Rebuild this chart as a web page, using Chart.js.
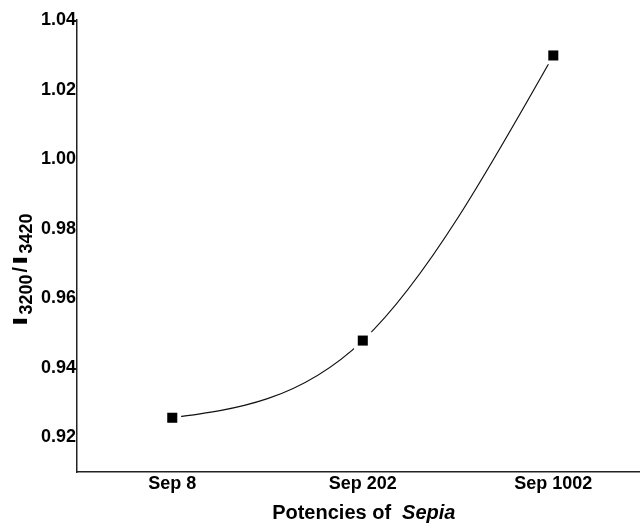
<!DOCTYPE html>
<html>
<head>
<meta charset="utf-8">
<script src="https://cdn.jsdelivr.net/npm/chart.js@4"></script>
<style>
  body { margin: 0; background: #fff; }
</style>
</head>
<body>
<canvas id="chart" width="640" height="527"></canvas>
<script>
const categories = ["Sep 8", "Sep 202", "Sep 1002"];
const positions = [1, 2, 3];
const ratio = [0.9256, 0.9478, 1.0298];
const yTicks = [0.92, 0.94, 0.96, 0.98, 1.00, 1.02, 1.04];

const FONT = '"Liberation Sans", Arial, sans-serif';

// natural cubic spline through the points (pixel space), drawn as beziers
function drawSpline(ctx, pts) {
  const n = pts.length;
  const h = [];
  for (let i = 0; i < n - 1; i++) h.push(pts[i + 1].x - pts[i].x);
  const M = new Array(n).fill(0);
  if (n > 2) {
    const a = [], b = [], c = [], d = [];
    for (let i = 1; i < n - 1; i++) {
      a.push(h[i - 1]);
      b.push(2 * (h[i - 1] + h[i]));
      c.push(h[i]);
      d.push(6 * ((pts[i + 1].y - pts[i].y) / h[i] - (pts[i].y - pts[i - 1].y) / h[i - 1]));
    }
    const m = b.length;
    for (let i = 1; i < m; i++) {
      const w = a[i] / b[i - 1];
      b[i] -= w * c[i - 1];
      d[i] -= w * d[i - 1];
    }
    M[m] = d[m - 1] / b[m - 1];
    for (let i = m - 2; i >= 0; i--) M[i + 1] = (d[i] - c[i] * M[i + 2]) / b[i];
  }
  ctx.beginPath();
  ctx.moveTo(pts[0].x, pts[0].y);
  for (let i = 0; i < n - 1; i++) {
    const p0 = pts[i], p1 = pts[i + 1], hh = h[i];
    const s = (p1.y - p0.y) / hh;
    const m0 = s - hh * (2 * M[i] + M[i + 1]) / 6;
    const m1 = s + hh * (M[i] + 2 * M[i + 1]) / 6;
    ctx.bezierCurveTo(p0.x + hh / 3, p0.y + m0 * hh / 3,
                      p1.x - hh / 3, p1.y - m1 * hh / 3,
                      p1.x, p1.y);
  }
  ctx.stroke();
}

const curvePlugin = {
  id: "curve",
  beforeDatasetsDraw(chart) {
    const xs = chart.scales.x, ys = chart.scales.y;
    const pts = positions.map((p, i) => ({
      x: xs.getPixelForValue(p),
      y: ys.getPixelForValue(ratio[i])
    }));
    const ctx = chart.ctx;
    ctx.save();
    ctx.strokeStyle = "#111";
    ctx.lineWidth = 1.2;
    drawSpline(ctx, pts);
    ctx.restore();
  }
};

const titlesPlugin = {
  id: "titles",
  afterDraw(chart) {
    const ctx = chart.ctx;
    const xs = chart.scales.x;
    ctx.save();
    ctx.fillStyle = "#000";
    ctx.textBaseline = "alphabetic";

    // x title: "Potencies of Sepia", Sepia in italics
    const f1 = "bold 20px " + FONT, f2 = "italic bold 20px " + FONT;
    ctx.font = f1;
    const t1 = "Potencies of";
    const w1 = ctx.measureText(t1).width + 11;
    ctx.font = f2;
    const w2 = ctx.measureText("Sepia").width;
    let x0 = xs.getPixelForValue(2) + 1 - (w1 + w2) / 2;
    ctx.font = f1;
    ctx.fillText(t1, x0, 519);
    ctx.font = f2;
    ctx.fillText("Sepia", x0 + w1, 519);

    // y title: I3200/I3420 with subscripts, rotated
    ctx.translate(27, 326);
    ctx.rotate(-Math.PI / 2);
    const parts = [
      ["I", "bold 20px " + FONT, 0, 1.7],
      ["3200", "bold 18px " + FONT, 5, 1],
      ["/", "bold 20px " + FONT, 0, 1],
      ["I", "bold 20px " + FONT, 0, 1.7],
      ["3420", "bold 18px " + FONT, 5, 1]
    ];
    let x = 0;
    for (const [txt, font, dy, sx] of parts) {
      ctx.font = font;
      ctx.save();
      ctx.translate(x, dy);
      ctx.scale(sx, 1);
      ctx.fillText(txt, 0, 0);
      ctx.restore();
      x += ctx.measureText(txt).width * sx + 2;
    }
    ctx.restore();
  }
};

const points = positions.map((p, i) => ({ x: p, y: ratio[i] }));

new Chart(document.getElementById("chart"), {
  type: "scatter",
  data: {
    datasets: [
      {
        // white patch so the curve stops short of each marker
        data: points,
        pointStyle: "rect",
        pointRadius: 12.5,
        pointBackgroundColor: "#fff",
        pointBorderWidth: 0,
        showLine: false,
        order: 2
      },
      {
        data: points,
        pointStyle: "rect",
        pointRadius: 7.1,
        pointBackgroundColor: "#000",
        pointBorderWidth: 0,
        showLine: false,
        order: 1
      }
    ]
  },
  options: {
    responsive: false,
    animation: false,
    events: [],
    layout: { autoPadding: false, padding: { top: 20, right: 0, left: 0, bottom: 0 } },
    plugins: {
      legend: { display: false },
      tooltip: { enabled: false }
    },
    scales: {
      x: {
        type: "linear",
        min: 0.5,
        max: 3.455,
        afterBuildTicks: s => { s.ticks = positions.map(v => ({ value: v })); },
        afterFit: s => { s.height = 55; s.paddingLeft = 0; s.paddingRight = 0; },
        grid: { display: false, drawTicks: false },
        border: { display: true, color: "#222", width: 1.5 },
        ticks: {
          padding: 1,
          color: "#000",
          font: { family: FONT, size: 18, weight: "bold" },
          callback: v => categories[positions.indexOf(v)]
        }
      },
      y: {
        min: 0.91,
        max: 1.04,
        afterBuildTicks: s => { s.ticks = yTicks.map(v => ({ value: v })); },
        afterFit: s => { s.width = 77; },
        grid: { display: false, drawTicks: false },
        border: { display: true, color: "#222", width: 1.5 },
        ticks: {
          padding: 1,
          color: "#000",
          font: { family: FONT, size: 18, weight: "bold" },
          callback: v => v.toFixed(2)
        }
      }
    }
  },
  plugins: [curvePlugin, titlesPlugin]
});
</script>
</body>
</html>
